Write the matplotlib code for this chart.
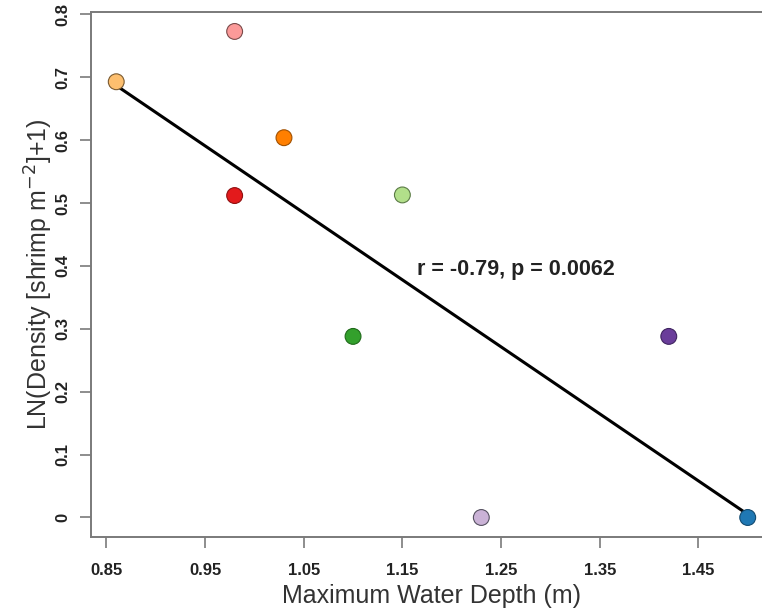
import numpy as np
import matplotlib
matplotlib.use("Agg")
import matplotlib.pyplot as plt

plt.rcParams['font.family'] = ['Liberation Sans', 'DejaVu Sans']

# water depth (m) and LN(density + 1) for each site
depth = [0.86, 0.98, 1.03, 0.98, 1.15, 1.10, 1.23, 1.42, 1.50]
density = [0.693, 0.773, 0.604, 0.512, 0.513, 0.288, 0.0, 0.288, 0.0]
colors = ['#FDBF6F', '#FB9A99', '#FF7F00', '#E31A1C', '#B2DF8A',
          '#33A02C', '#CAB2D6', '#6A3D9A', '#1F78B4']
edges = ['#7a5a30', '#7a4a4a', '#a05000', '#900f10', '#5a7a45',
         '#1f6a1a', '#555060', '#3f2460', '#124a70']

# fitted line
fit_x = [0.86, 1.50]
fit_y = [0.687, 0.005]

xticks = [0.85, 0.95, 1.05, 1.15, 1.25, 1.35, 1.45]
yticks = [0, 0.1, 0.2, 0.3, 0.4, 0.5, 0.6, 0.7, 0.8]
ylabels = ['0', '0.1', '0.2', '0.3', '0.4', '0.5', '0.6', '0.7', '0.8']

fig = plt.figure(figsize=(7.62, 6.1), dpi=100)
ax = fig.add_axes([0.1194, 0.1197, 0.895, 0.8607])

ax.plot(fit_x, fit_y, color='black', lw=2.2, zorder=2)
ax.scatter(depth, density, s=130, c=colors, edgecolors=edges,
           linewidths=0.8, zorder=3)

ax.text(1.165, 0.395, 'r = -0.79, p = 0.0062', fontsize=15.5,
        fontweight='bold', color='#222222', ha='left', va='center')

ax.set_xlim(0.8344, 1.5256)
ax.set_ylim(-0.031, 0.804)
ax.set_xticks(xticks)
ax.set_xticklabels([f'{t:.2f}' for t in xticks], fontweight='bold')
ax.set_yticks(yticks)
ax.set_yticklabels(ylabels, fontweight='bold', rotation=90, va='center')

for s in ax.spines.values():
    s.set_color('#7a7a7a')
    s.set_linewidth(1.4)
ax.spines['right'].set_visible(False)

ax.tick_params(axis='both', length=8, width=1.2, color='#7a7a7a',
               labelsize=12, labelcolor='#222222')
ax.tick_params(axis='x', pad=11)
ax.tick_params(axis='y', pad=7)

ax.set_xlabel('Maximum Water Depth (m)', fontsize=18, color='#333333',
              labelpad=4)
ax.set_ylabel(r'LN(Density [shrimp m$^{-2}$]+1)', fontsize=18,
              color='#333333', labelpad=0)

fig.savefig('out.png', dpi=100)
